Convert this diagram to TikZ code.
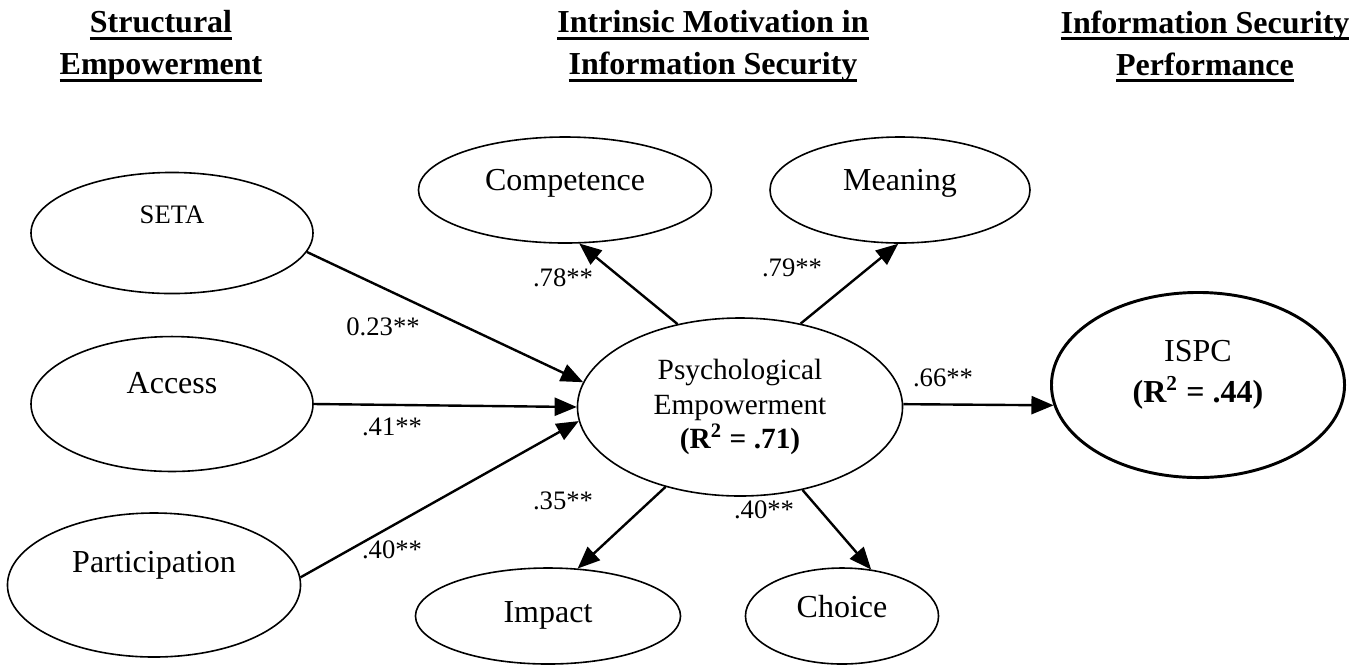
\documentclass[tikz,border=0pt]{standalone}
\usepackage{fontspec}
\setmainfont{Liberation Serif}
\usetikzlibrary{arrows}
\usetikzlibrary{shapes}
\newlength{\ulwd}
\newcommand{\ulhead}[1]{\settowidth{\ulwd}{#1}\rlap{#1}\rule[-2.7pt]{\ulwd}{1.1pt}}

\begin{document}
\begin{tikzpicture}[x = 0.375pt, y = -0.375pt, >=triangle 45, font = \fontsize{12}{14}\selectfont]
	\tikzstyle{latent}=[shape = ellipse, draw, line width = 0.6pt, inner sep = 0pt]
	\tikzstyle{outcome}=[latent, line width = 1.1pt]
	\tikzstyle{loading}=[->, line width = 0.9pt]
	\tikzstyle{coef}=[inner sep = 0pt, font = \fontsize{10}{12}\selectfont]
	\tikzstyle{header}=[inner sep = 0pt, align = center, anchor = north, font = \bfseries\fontsize{12}{15.75}\selectfont]
	\useasboundingbox (0,0) rectangle (1362,666);
	% column headings
	\node[header] (hSE) at (161,10) {\ulhead{Structural}\\\ulhead{Empowerment}};
	\node[header] (hIM) at (713,10) {\ulhead{Intrinsic Motivation in}\\\ulhead{Information Security}};
	\node[header] (hISP) at (1205,10) {\ulhead{Information Security}\\\ulhead{Performance}};
	% structural empowerment
	\node[latent, minimum width = 105.75pt, minimum height = 45.4pt] (seta) at (172,233) {\raisebox{3.5pt}[0pt][0pt]{\fontsize{10}{12}\selectfont SETA}};
	\node[latent, minimum width = 105.75pt, minimum height = 50.6pt] (access) at (172,404) {\raisebox{4pt}[0pt][0pt]{Access}};
	\node[latent, minimum width = 109.9pt, minimum height = 54pt] (partic) at (154,585) {\raisebox{4.6pt}[0pt][0pt]{Participation}};
	% psychological empowerment and its dimensions
	\node[latent, minimum width = 121.9pt, minimum height = 66.75pt, align = center, font = \fontsize{11}{12.8}\selectfont] (pe) at (740,407) {Psychological\\Empowerment\\\textbf{(R\textsuperscript{2} = .71)}};
	\node[latent, minimum width = 109.9pt, minimum height = 39.75pt] (comp) at (565,190) {\raisebox{0pt}[0pt][0pt]{Competence}};
	\node[latent, minimum width = 97.5pt, minimum height = 39.75pt] (meaning) at (900,190) {\raisebox{0pt}[0pt][0pt]{Meaning}};
	\node[latent, minimum width = 99.4pt, minimum height = 36pt] (impact) at (548,616) {\raisebox{-2.5pt}[0pt][0pt]{Impact}};
	\node[latent, minimum width = 72.4pt, minimum height = 36pt] (choice) at (842,616) {\raisebox{-0.5pt}[0pt][0pt]{Choice}};
	% performance
	\node[outcome, minimum width = 109.9pt, minimum height = 69.4pt] (ispc) at (1198,385) {\raisebox{1pt}[0pt][0pt]{\begin{tabular}{@{}c@{}}ISPC\\[1.5pt]\textbf{(R\textsuperscript{2} = .44)}\end{tabular}}};
	% paths
	\draw[loading] (seta.-8) -- (pe.171);
	\draw[loading] (access.east) -- (pe.west);
	\draw[loading] (partic.3) -- (pe.185);
	\draw[loading] (pe.127) -- (comp.-75);
	\draw[loading] (pe.54) -- (meaning.-92);
	\draw[loading] (pe.-133) -- (impact.58);
	\draw[loading] (pe.-53) -- (choice.58);
	\draw[loading] (pe.1) -- (ispc.188);
	% coefficients
	\node[coef] (cSeta) at (383,327) {0.23**};
	\node[coef] (cAccess) at (392,427) {.41**};
	\node[coef] (cPartic) at (392,550) {.40**};
	\node[coef] (cComp) at (563,278) {.78**};
	\node[coef] (cMeaning) at (792,268) {.79**};
	\node[coef] (cImpact) at (563,501) {.35**};
	\node[coef] (cChoice) at (764,510) {.40**};
	\node[coef] (cIspc) at (943,378) {.66**};
\end{tikzpicture}
\end{document}
